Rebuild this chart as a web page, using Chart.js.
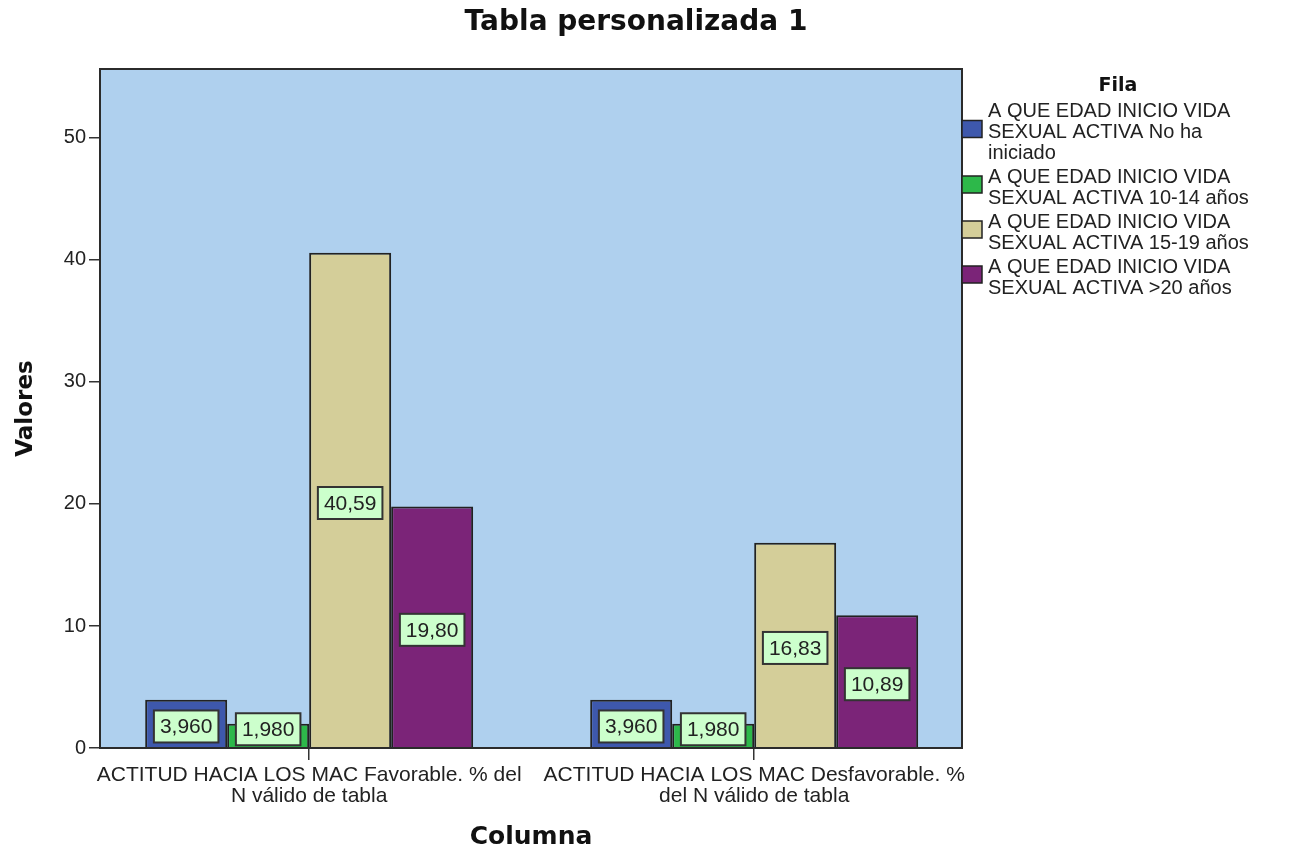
<!DOCTYPE html>
<html>
<head>
<meta charset="utf-8">
<script src="https://cdn.jsdelivr.net/npm/chart.js@4.4.1/dist/chart.umd.min.js"></script>
<style>
  body { margin: 0; background: #fff; }
</style>
</head>
<body>
<canvas id="graph1" width="1298" height="852"></canvas>
<script>
// categories (x axis), two lines each
const categories = [
    ['ACTITUD HACIA LOS MAC Favorable. % del', 'N válido de tabla'],
    ['ACTITUD HACIA LOS MAC Desfavorable. %', 'del N válido de tabla']
];

// legend entries ("Fila"), already split in lines
const seriesNames = [
    ['A QUE EDAD INICIO VIDA', 'SEXUAL ACTIVA No ha', 'iniciado'],
    ['A QUE EDAD INICIO VIDA', 'SEXUAL ACTIVA 10-14 años'],
    ['A QUE EDAD INICIO VIDA', 'SEXUAL ACTIVA 15-19 años'],
    ['A QUE EDAD INICIO VIDA', 'SEXUAL ACTIVA >20 años']
];

const noIniciado = [3.960, 3.960];
const edad10a14 = [1.980, 1.980];
const edad15a19 = [40.59, 16.83];
const edadMas20 = [19.80, 10.89];

const yTicks = [0, 10, 20, 30, 40, 50];

const colors = ['#3E58AC', '#2DB84A', '#D4CE99', '#7B2478'];

const SANS = "'Liberation Sans', Arial, sans-serif";
const BOLD = "'DejaVu Sans', Verdana, sans-serif";

Chart.defaults.font.family = SANS;
Chart.defaults.color = '#222';

function fmt(v) {
    return v.toPrecision(4).replace('.', ',');
}

const decor = {
    id: 'decor',
    beforeDraw(chart) {
        const { ctx, chartArea: a } = chart;
        ctx.save();
        ctx.fillStyle = '#AFD0EE';
        ctx.fillRect(a.left, a.top, a.right - a.left, a.bottom - a.top);
        ctx.restore();
    },
    afterDatasetsDraw(chart) {
        const { ctx, chartArea: a } = chart;
        ctx.save();
        // frame round the plot
        ctx.strokeStyle = '#2b2b2b';
        ctx.lineWidth = 2;
        ctx.strokeRect(a.left, a.top, a.right - a.left, a.bottom - a.top);

        // value boxes
        ctx.font = '21px ' + SANS;
        ctx.textAlign = 'center';
        ctx.textBaseline = 'middle';
        chart.data.datasets.forEach((ds, i) => {
            chart.getDatasetMeta(i).data.forEach((bar, j) => {
                const txt = fmt(ds.data[j]);
                const w = ctx.measureText(txt).width + 12;
                const h = 32;
                let cy = (bar.y + bar.base) / 2 + 3;
                if (cy + h / 2 > bar.base - 2) cy = bar.base - 2 - h / 2;
                ctx.fillStyle = '#CCFFCC';
                ctx.fillRect(bar.x - w / 2, cy - h / 2, w, h);
                ctx.strokeStyle = '#333';
                ctx.lineWidth = 2;
                ctx.strokeRect(bar.x - w / 2, cy - h / 2, w, h);
                ctx.fillStyle = '#222';
                ctx.fillText(txt, bar.x, cy + 1);
            });
        });
        ctx.restore();
    },
    afterDraw(chart) {
        const { ctx, chartArea: a } = chart;
        ctx.save();
        ctx.fillStyle = '#111';
        ctx.textAlign = 'center';
        ctx.textBaseline = 'middle';
        ctx.font = 'bold 28px ' + BOLD;
        ctx.fillText('Tabla personalizada 1', 636, 23);

        // legend
        ctx.font = 'bold 19px ' + BOLD;
        ctx.fillText('Fila', 1118, 86);
        ctx.font = '20px ' + SANS;
        ctx.textAlign = 'left';
        const lh = 21;
        let y = 111;
        seriesNames.forEach((lines, i) => {
            const mid = y + (lines.length - 1) * lh / 2;
            ctx.fillStyle = colors[i];
            ctx.fillRect(a.right, mid - 3 - 8.5, 20, 17);
            ctx.strokeStyle = '#222';
            ctx.lineWidth = 1.5;
            ctx.strokeRect(a.right, mid - 3 - 8.5, 20, 17);
            ctx.fillStyle = '#222';
            lines.forEach((t, k) => ctx.fillText(t, 988, y + k * lh));
            y += lines.length * lh + 3;
        });
        ctx.restore();
    }
};

const graph = document.getElementById('graph1');

new Chart(graph, {
    type: 'bar',
    data: {
        labels: categories,
        datasets: [noIniciado, edad10a14, edad15a19, edadMas20].map((d, i) => ({
            label: seriesNames[i].join(' '),
            data: d,
            backgroundColor: colors[i],
            borderColor: '#222',
            borderWidth: 2,
            categoryPercentage: 0.737,
            barPercentage: 1
        }))
    },
    options: {
        responsive: false,
        animation: false,
        layout: {
            padding: { top: 69, right: 336, left: 0, bottom: 0 }
        },
        plugins: {
            legend: { display: false },
            title: { display: false },
            tooltip: { enabled: false }
        },
        scales: {
            x: {
                offset: true,
                afterFit: s => { s.height = 104; },
                // SPSS leaves a little more room at the ends than between the two groups
                afterBuildTicks: s => { s._startValue = -0.47; s._valueRange = 1.937; },
                grid: { offset: false, drawOnChartArea: false, tickLength: 12, color: '#333', lineWidth: 1.5 },
                border: { display: false },
                ticks: {
                    autoSkip: false,
                    maxRotation: 0,
                    padding: 5,
                    color: '#222',
                    font: { size: 21, lineHeight: 1.0 }
                },
                title: {
                    display: true,
                    text: 'Columna',
                    color: '#111',
                    padding: { top: 0, bottom: 0 },
                    font: { family: BOLD, weight: 'bold', size: 25, lineHeight: 1.2 }
                }
            },
            y: {
                min: 0,
                max: 55.65,
                afterFit: s => { s.width = 100; },
                afterBuildTicks: s => { s.ticks = yTicks.map(v => ({ value: v })); },
                grid: { drawOnChartArea: false, tickLength: 11, color: '#333', lineWidth: 1.5 },
                border: { display: false },
                ticks: {
                    padding: 3,
                    color: '#222',
                    font: { size: 20 }
                },
                title: {
                    display: true,
                    text: 'Valores',
                    color: '#111',
                    padding: { top: 12, bottom: 0 },
                    font: { family: BOLD, weight: 'bold', size: 23, lineHeight: 1.2 }
                }
            }
        }
    },
    plugins: [decor]
});
</script>
</body>
</html>
